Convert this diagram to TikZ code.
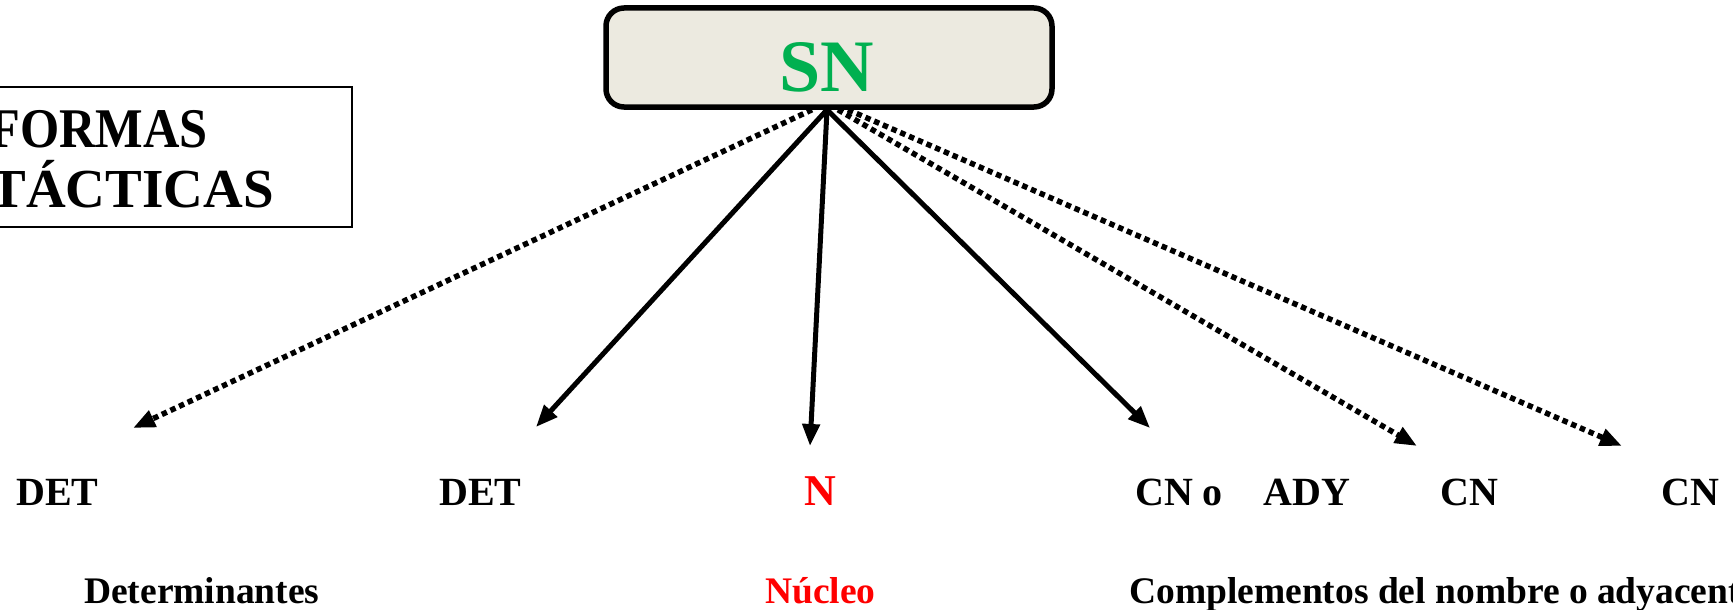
\documentclass[tikz,border=0pt]{standalone}
\usepackage{fontspec}
\setmainfont{Liberation Serif}
\newfontfamily\titlefont[FakeStretch=0.9]{Liberation Serif}
\usetikzlibrary{arrows.meta,calc}
\definecolor{snfill}{RGB}{236,234,224}
\definecolor{sngreen}{RGB}{0,176,80}
\definecolor{nred}{RGB}{255,0,0}
\begin{document}
\begin{tikzpicture}[x=1pt,y=-1pt,
  toplab/.style={font=\fontsize{40}{44}\selectfont\bfseries, inner sep=0pt, anchor=base west},
  botlab/.style={font=\fontsize{37.5}{42}\selectfont\bfseries, inner sep=0pt, anchor=base west},
  boxtext/.style={font=\fontsize{55}{60}\selectfont\bfseries, inner sep=0pt, anchor=base east},
  solidarr/.style={line width=5pt, -{Triangle[length=22pt,width=17pt]}},
  dotarr/.style={line width=5.5pt, dash pattern=on 5.5pt off 4pt, -{Triangle[length=22pt,width=17pt]}}]
\useasboundingbox (0,0) rectangle (1733,610);
% title box (cut at the left edge)
\node[draw, line width=2pt, minimum width=420pt, minimum height=140pt, anchor=north east, inner sep=0pt] (tbox) at (353,86) {};
\node[boxtext, font=\titlefont\fontsize{56}{60}\selectfont\bfseries] (t1) at (208,147) {FORMAS};
\node[boxtext] (t2) at (274,207) {SINTÁCTICAS};
% SN box
\node[draw, line width=5.5pt, rounded corners=18pt, fill=snfill, minimum width=446pt, minimum height=99pt, inner sep=0pt] (sn) at (829,57.5) {};
\node[font=\fontsize{74}{80}\selectfont\bfseries, text=sngreen, inner sep=0pt, anchor=base] (snt) at (827,92) {SN};
% labels
\node[toplab] (det1) at (16,505) {DET};
\node[toplab] (det2) at (439,505) {DET};
\node[toplab, font=\fontsize{44}{48}\selectfont\bfseries, text=nred] (n) at (804,505) {N};
\node[toplab] (cnady) at (1135,505) {CN o\hspace{41pt}ADY};
\node[toplab] (cn1) at (1440,505) {CN};
\node[toplab] (cn2) at (1661,505) {CN};
\node[botlab] (detlab) at (84,603) {Determinantes};
\node[botlab, text=nred] (nuc) at (765,603) {Núcleo};
\node[botlab] (comp) at (1129,603) {Complementos del nombre o adyacentes};
% arrow ends
\coordinate (e1) at (133,428);
\coordinate (e2) at (536,427);
\coordinate (e3) at (810,446);
\coordinate (e4) at (1150,428);
\coordinate (e5) at (1417,446);
\coordinate (e6) at (1622,446);
% connectors
\draw[dotarr] ($(sn.south)+(-17,0)$) -- (e1);
\draw[solidarr] ($(sn.south)+(-2,0)$) -- (e2);
\draw[solidarr] ($(sn.south)+(-2,0)$) -- (e3);
\draw[solidarr] ($(sn.south)+(-2,0)$) -- (e4);
\draw[dotarr] ($(sn.south)+(9,0)$) -- (e5);
\draw[dotarr] ($(sn.south)+(19,0)$) -- (e6);
\end{tikzpicture}
\end{document}
